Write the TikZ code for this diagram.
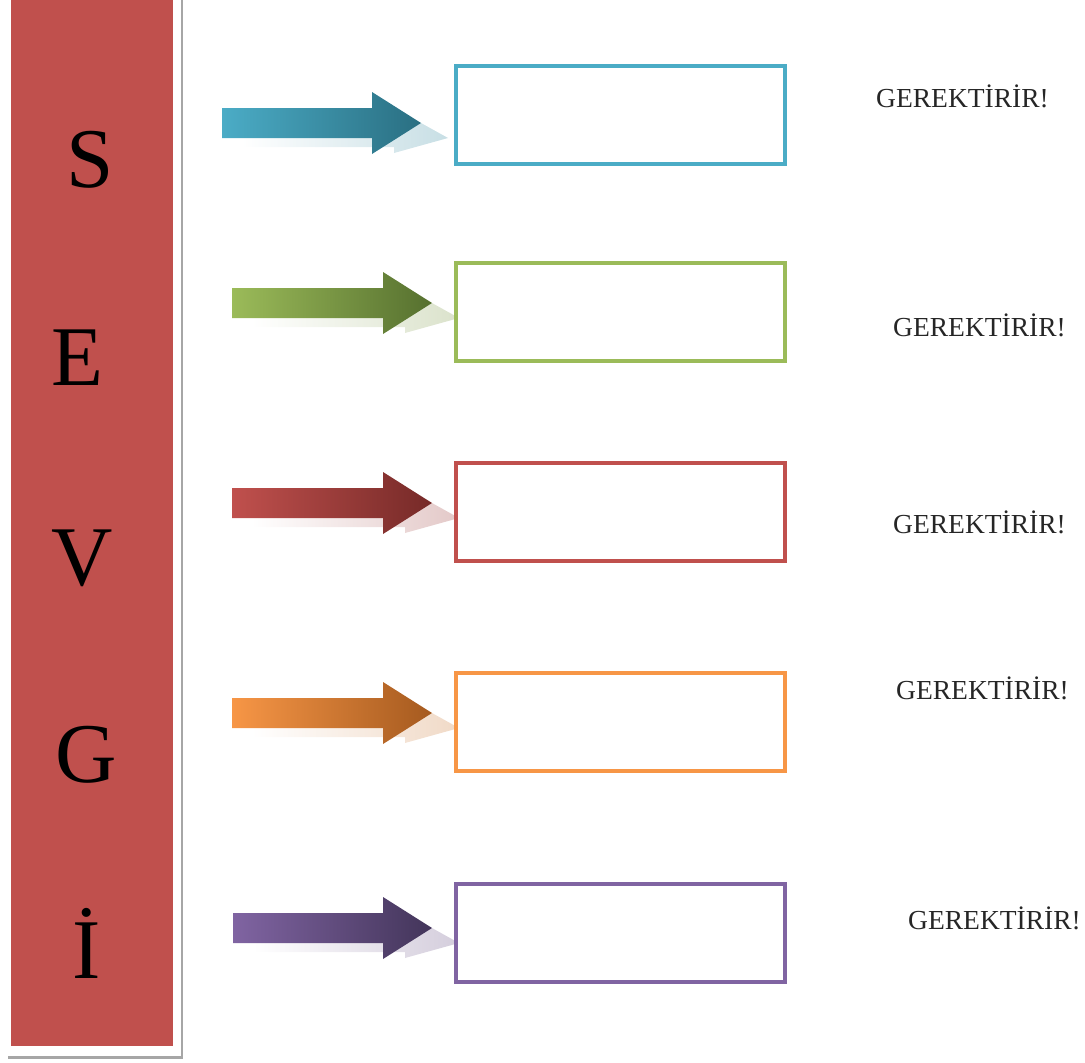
\documentclass[tikz,border=0pt]{standalone}
\usepackage{fontspec}
\setmainfont{Liberation Serif}
\definecolor{cTeal}{HTML}{4BACC6}
\definecolor{cTealD}{HTML}{2A6F82}
\definecolor{cGreen}{HTML}{9BBB59}
\definecolor{cGreenD}{HTML}{56702F}
\definecolor{cRed}{HTML}{C0504D}
\definecolor{cRedD}{HTML}{762A28}
\definecolor{cOrange}{HTML}{F79646}
\definecolor{cOrangeD}{HTML}{A55A1F}
\definecolor{cPurple}{HTML}{8064A2}
\definecolor{cPurpleD}{HTML}{43355A}
\definecolor{barRed}{HTML}{C0504D}
\newcommand{\blkarrow}[5]{% start x, tip x, centre y, light, dark
  \pgfmathsetmacro{\hb}{#2-49}
  \shade[left color=white, right color=#4!25!white!95!black, shading angle=90]
    (#1+20,#3+7.5) -- (\hb+22,#3+7.5) -- (\hb+22,#3-15) -- (#2+27,#3+15)
    -- (\hb+22,#3+30) -- (\hb+22,#3+24) -- (#1+20,#3+24) -- cycle;
  \shade[left color=#4, right color=#5, shading angle=90]
    (#1,#3-15) -- (\hb,#3-15) -- (\hb,#3-31) -- (#2,#3) -- (\hb,#3+31)
    -- (\hb,#3+15) -- (#1,#3+15) -- cycle;
}
\tikzset{
  box/.style={draw=#1, line width=4pt, minimum width=329pt, minimum height=98pt, inner sep=0pt, fill=white},
  letter/.style={anchor=base, font=\fontsize{85}{85}\selectfont, text=black, inner sep=0pt},
  req/.style={anchor=base west, font=\fontsize{27.5}{28}\selectfont, text=black!85, inner sep=0pt}
}
\begin{document}
\begin{tikzpicture}[x=1pt, y=-1pt]
\useasboundingbox (0,0) rectangle (1085,1063);
% bar with frame and shadow
\fill[black!35] (8,-5) rectangle (183,1059);
\fill[white] (4,-5) rectangle (180.5,1055.5);
\node[fill=barRed, inner sep=0pt, minimum width=162pt, minimum height=1051pt, anchor=north west] (bar) at (11,-5) {};
% letters
\node[letter] (l1) at (90,187) {S};
\node[letter] (l2) at (77,385) {E};
\node[letter] (l3) at (82,585) {V};
\node[letter] (l4) at (86,782) {G};
\node[letter] (l5) at (87,978) {İ};
% arrows
\blkarrow{222}{421}{123}{cTeal}{cTealD}
\blkarrow{232}{432}{303}{cGreen}{cGreenD}
\blkarrow{232}{432}{503}{cRed}{cRedD}
\blkarrow{232}{432}{713}{cOrange}{cOrangeD}
\blkarrow{233}{432}{928}{cPurple}{cPurpleD}
% boxes
\node[box=cTeal] (b1) at (620.5,115) {};
\node[box=cGreen] (b2) at (620.5,311.5) {};
\node[box=cRed] (b3) at (620.5,511.5) {};
\node[box=cOrange] (b4) at (620.5,721.5) {};
\node[box=cPurple] (b5) at (620.5,932.5) {};
% texts
\node[req] (t1) at (876,107) {GEREKTİRİR!};
\node[req] (t2) at (893,336) {GEREKTİRİR!};
\node[req] (t3) at (893,533) {GEREKTİRİR!};
\node[req] (t4) at (896,699) {GEREKTİRİR!};
\node[req] (t5) at (908,929) {GEREKTİRİR!};
\end{tikzpicture}
\end{document}
